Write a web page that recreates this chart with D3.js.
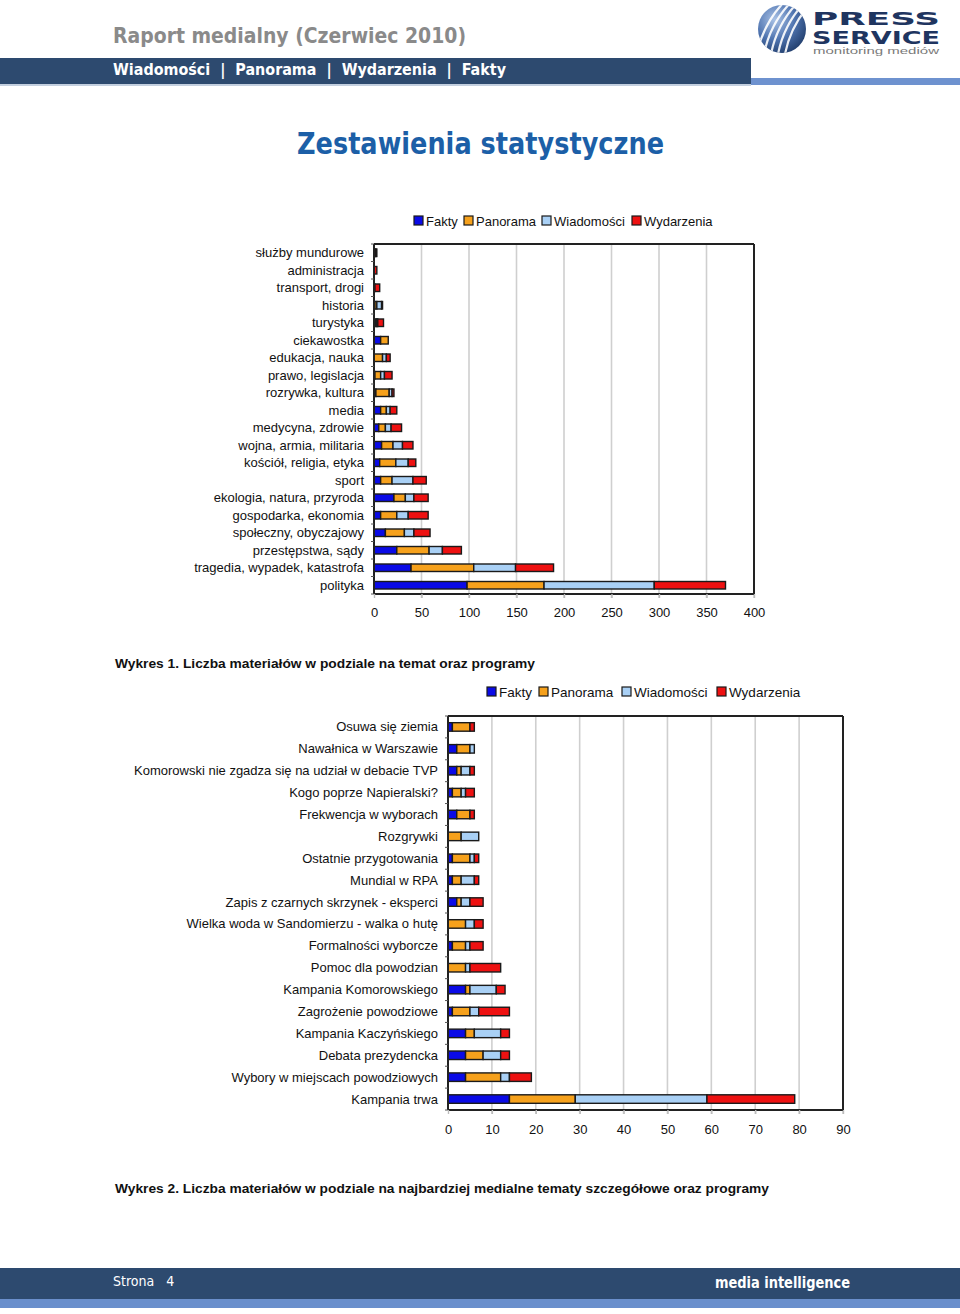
<!DOCTYPE html>
<html><head><meta charset="utf-8">
<script src="https://cdn.jsdelivr.net/npm/d3@7/dist/d3.min.js"></script>
<style>
html,body{margin:0;padding:0;background:#fff;}
svg{display:block;}
</style></head>
<body>
<svg id="page" width="960" height="1314"></svg>
<script>
// ---------- DATA ----------
const seriesNames = ["Fakty", "Panorama", "Wiadomości", "Wydarzenia"];

const categories1 = ["służby mundurowe","administracja","transport, drogi","historia","turystyka","ciekawostka","edukacja, nauka","prawo, legislacja","rozrywka, kultura","media","medycyna, zdrowie","wojna, armia, militaria","kościół, religia, etyka","sport","ekologia, natura, przyroda","gospodarka, ekonomia","społeczny, obyczajowy","przestępstwa, sądy","tragedia, wypadek, katastrofa","polityka"];
const fakty1      = [1,0,0,1,2,7,0,1,2,7,5,8,6,7,21,7,12,24,39,98];
const panorama1   = [0,0,1,2,1,8,9,6,14,6,7,12,17,12,12,17,20,34,66,81];
const wiadomosci1 = [1,0,0,5,1,0,4,4,3,4,6,10,13,22,9,12,10,14,44,116];
const wydarzenia1 = [1,3,5,1,6,0,4,8,2,7,11,11,8,14,15,21,17,20,40,75];
const ticks1 = [0,50,100,150,200,250,300,350,400];

const categories2 = ["Osuwa się ziemia","Nawałnica w Warszawie","Komorowski nie zgadza się na udział w debacie TVP","Kogo poprze Napieralski?","Frekwencja w wyborach","Rozgrywki","Ostatnie przygotowania","Mundial w RPA","Zapis z czarnych skrzynek - eksperci","Wielka woda w Sandomierzu - walka o hutę","Formalności wyborcze","Pomoc dla powodzian","Kampania Komorowskiego","Zagrożenie powodziowe","Kampania Kaczyńskiego","Debata prezydencka","Wybory w miejscach powodziowych","Kampania trwa"];
const fakty2      = [1,2,2,1,2,0,1,1,2,0,1,0,4,1,4,4,4,14];
const panorama2   = [4,3,1,2,3,3,4,2,1,4,3,4,1,4,2,4,8,15];
const wiadomosci2 = [0,1,2,1,0,4,1,3,2,2,1,1,6,2,6,4,2,30];
const wydarzenia2 = [1,0,1,2,1,0,1,1,3,2,3,7,2,7,2,2,5,20];
const ticks2 = [0,10,20,30,40,50,60,70,80,90];

const colors = ["#0a0ae6", "#f6a11c", "#a9d0f5", "#ee1111"];

// ---------- PAGE ----------
const svg = d3.select("#page");
const condensed = "'DejaVu Sans Condensed','DejaVu Sans',sans-serif";
const arial = "'Liberation Sans',Arial,sans-serif";

// header
svg.append("text").attr("x",113).attr("y",43).text("Raport medialny (Czerwiec 2010)")
  .attr("font-family",condensed).attr("font-weight","bold").attr("font-size",22)
  .attr("fill","#8a8a8a").attr("textLength",353).attr("lengthAdjust","spacingAndGlyphs");

svg.append("rect").attr("x",0).attr("y",58).attr("width",751).attr("height",26).attr("fill","#2d4a6f");
svg.append("rect").attr("x",0).attr("y",84).attr("width",751).attr("height",2).attr("fill","#c3cfdf");
svg.append("rect").attr("x",751).attr("y",78).attr("width",209).attr("height",7).attr("fill","#6e92cf");
svg.append("text").attr("x",113).attr("y",75).text("Wiadomości  |  Panorama  |  Wydarzenia  |  Fakty")
  .attr("font-family",condensed).attr("font-weight","bold").attr("font-size",15).attr("fill","#fff")
  .attr("xml:space","preserve").style("white-space","pre")
  .attr("textLength",393).attr("lengthAdjust","spacingAndGlyphs");

// logo
const defs = svg.append("defs");
const rg = defs.append("radialGradient").attr("id","lg").attr("cx","35%").attr("cy","30%").attr("r","75%");
rg.append("stop").attr("offset","0%").attr("stop-color","#a9c2e6");
rg.append("stop").attr("offset","55%").attr("stop-color","#4f74b0");
rg.append("stop").attr("offset","100%").attr("stop-color","#23406f");
defs.append("clipPath").attr("id","lc").append("circle").attr("cx",782).attr("cy",29).attr("r",24);
svg.append("circle").attr("cx",782).attr("cy",29).attr("r",24).attr("fill","url(#lg)");
const lgG = svg.append("g").attr("clip-path","url(#lc)");
[-14,-7,0,7,14].forEach(o=>{
  lgG.append("path").attr("d",`M${770+o},${60} Q${775+o},${25} ${800+o},${0}`)
    .attr("fill","none").attr("stroke","#fff").attr("stroke-width",2.2).attr("opacity",0.9);
});
svg.append("text").attr("x",812).attr("y",25).text("PRESS").attr("font-family","'DejaVu Sans',sans-serif")
  .attr("font-weight","bold").attr("font-size",18).attr("fill","#1f3560")
  .attr("textLength",128).attr("lengthAdjust","spacingAndGlyphs");
svg.append("text").attr("x",812).attr("y",44).text("SERVICE").attr("font-family","'DejaVu Sans',sans-serif")
  .attr("font-weight","bold").attr("font-size",18).attr("fill","#1f3560")
  .attr("textLength",128).attr("lengthAdjust","spacingAndGlyphs");
svg.append("text").attr("x",813).attr("y",54).text("monitoring mediów").attr("font-family",arial)
  .attr("font-size",8.5).attr("fill","#7a7a7a")
  .attr("textLength",126).attr("lengthAdjust","spacingAndGlyphs");

// title
svg.append("text").attr("x",297).attr("y",154).text("Zestawienia statystyczne")
  .attr("font-family","'DejaVu Sans',Verdana,sans-serif").attr("font-weight","bold").attr("font-size",30)
  .attr("fill","#1c5fa7").attr("textLength",367).attr("lengthAdjust","spacingAndGlyphs");

// ---------- CHART FUNCTION ----------
function drawChart(cfg){
  const {cats, vals, ticks, x0, x1, y0, y1, barH, labelX, labelSize, tickY, legendX, legendY, legendGaps, legendSize} = cfg;
  const rows = cats.map((c,i)=>({cat:c, Fakty:vals[0][i], Panorama:vals[1][i], "Wiadomości":vals[2][i], Wydarzenia:vals[3][i]}));
  const stack = d3.stack().keys(seriesNames)(rows);
  const x = d3.scaleLinear().domain([ticks[0], ticks[ticks.length-1]]).range([x0, x1]);
  const y = d3.scaleBand().domain(cats).range([y0, y1]);
  const g = svg.append("g");

  // gridlines
  g.selectAll("line.grid").data(ticks.slice(1)).join("line")
    .attr("x1",d=>x(d)).attr("x2",d=>x(d)).attr("y1",y0).attr("y2",y1+4)
    .attr("stroke","#cfcfcf").attr("stroke-width",1.6);

  // bars
  stack.forEach((s,si)=>{
    g.append("g").selectAll("rect").data(s).join("rect")
      .filter(d=>d[1]-d[0]>0)
      .attr("x",d=>x(d[0])).attr("width",d=>x(d[1])-x(d[0]))
      .attr("y",(d,i)=>y(d.data.cat)+y.bandwidth()/2-barH/2).attr("height",barH)
      .attr("fill",colors[si]).attr("stroke","#1a1a1a").attr("stroke-width",1.4);
  });

  // frame: top, right, bottom, left
  g.append("line").attr("x1",x0).attr("x2",x1).attr("y1",y0).attr("y2",y0).attr("stroke","#222").attr("stroke-width",2);
  g.append("line").attr("x1",x1).attr("x2",x1).attr("y1",y0).attr("y2",y1).attr("stroke","#222").attr("stroke-width",2);
  g.append("line").attr("x1",x0).attr("x2",x1).attr("y1",y1).attr("y2",y1).attr("stroke","#222").attr("stroke-width",2);
  g.append("line").attr("x1",x0).attr("x2",x0).attr("y1",y0).attr("y2",y1).attr("stroke","#222").attr("stroke-width",2);
  g.selectAll("line.yt").data(d3.range(cats.length+1)).join("line")
    .attr("x1",x0-3).attr("x2",x0).attr("y1",i=>y0+i*y.step()).attr("y2",i=>y0+i*y.step())
    .attr("stroke","#555").attr("stroke-width",1);

  // category labels
  g.selectAll("text.cat").data(cats).join("text")
    .attr("x",labelX).attr("y",d=>y(d)+y.bandwidth()/2).attr("dy","0.35em")
    .attr("text-anchor","end").attr("font-family",arial).attr("font-size",labelSize).attr("fill","#111")
    .text(d=>d);

  // x axis
  const xa = d3.axisBottom(x).tickValues(ticks).tickSize(4).tickPadding(8).tickFormat(d3.format("d"));
  const ax = g.append("g").attr("transform",`translate(0,${y1})`).call(xa);
  ax.select(".domain").remove();
  ax.selectAll(".tick line").attr("stroke","#bbb").attr("stroke-width",1.4);
  ax.selectAll(".tick text").attr("font-family",arial).attr("font-size",13).attr("fill","#111")
    .attr("y",tickY - y1).attr("dy","0.35em");

  // legend
  let lx = legendX;
  seriesNames.forEach((n,i)=>{
    g.append("rect").attr("x",lx).attr("y",legendY-5).attr("width",9).attr("height",9)
      .attr("fill",colors[i]).attr("stroke","#1a1a1a").attr("stroke-width",1.2);
    g.append("text").attr("x",lx+12).attr("y",legendY).attr("dy","0.35em")
      .attr("font-family",arial).attr("font-size",legendSize).attr("fill","#111").text(n);
    lx += legendGaps[i];
  });
}

drawChart({cats:categories1, vals:[fakty1,panorama1,wiadomosci1,wydarzenia1], ticks:ticks1,
  x0:374, x1:754, y0:244, y1:594, barH:7.5, labelX:364, labelSize:13, tickY:612,
  legendX:414, legendY:221, legendGaps:[50,78,90], legendSize:13});

drawChart({cats:categories2, vals:[fakty2,panorama2,wiadomosci2,wydarzenia2], ticks:ticks2,
  x0:448, x1:843, y0:716, y1:1110, barH:8.5, labelX:438, labelSize:13, tickY:1129,
  legendX:487, legendY:692, legendGaps:[52,83,95], legendSize:13.5});

// captions
svg.append("text").attr("x",115).attr("y",668).text("Wykres 1. Liczba materiałów w podziale na temat oraz programy")
  .attr("font-family",arial).attr("font-weight","bold").attr("font-size",13).attr("fill","#111")
  .attr("textLength",420).attr("lengthAdjust","spacingAndGlyphs");
svg.append("text").attr("x",115).attr("y",1193).text("Wykres 2. Liczba materiałów w podziale na najbardziej medialne tematy szczegółowe oraz programy")
  .attr("font-family",arial).attr("font-weight","bold").attr("font-size",13).attr("fill","#111")
  .attr("textLength",654).attr("lengthAdjust","spacingAndGlyphs");

// footer
svg.append("rect").attr("x",0).attr("y",1268).attr("width",960).attr("height",31).attr("fill","#2d4a6f");
svg.append("rect").attr("x",0).attr("y",1299).attr("width",960).attr("height",9).attr("fill","#6a8fcc");
svg.append("text").attr("x",113).attr("y",1286).text("Strona   4")
  .attr("xml:space","preserve").style("white-space","pre")
  .attr("font-family",condensed).attr("font-size",14).attr("fill","#fff");
svg.append("text").attr("x",715).attr("y",1288).text("media intelligence")
  .attr("font-family",condensed).attr("font-weight","bold").attr("font-size",16).attr("fill","#fff")
  .attr("textLength",135).attr("lengthAdjust","spacingAndGlyphs");
</script>
</body></html>
